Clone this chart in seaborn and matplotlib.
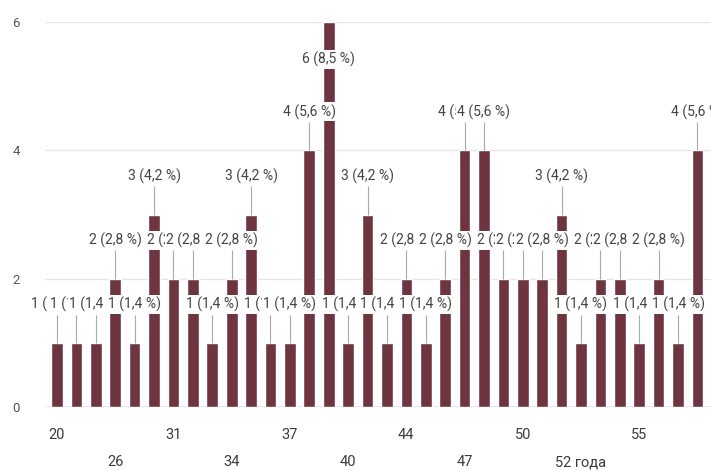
import seaborn as sns
import matplotlib.pyplot as plt
import pandas as pd

# ages as answered in the form (text answers, so "52 года" is its own category)
ages = ['20', '22', '24', '26', '28', '30', '31', '32', '33', '34', '35', '36',
        '37', '38', '39', '40', '41', '43', '44', '45', '46', '47', '48', '49',
        '50', '51', '52', '52 года', '53', '54', '55', '56', '57', '58']
counts = [1, 1, 1, 2, 1, 3, 2, 2, 1, 2, 3, 1,
          1, 4, 6, 1, 3, 1, 2, 1, 2, 4, 4, 2,
          2, 2, 3, 1, 2, 2, 1, 2, 1, 4]
y_ticks = [0, 2, 4, 6]

total = sum(counts)
df = pd.DataFrame({'age': ages, 'count': counts})

sns.set_style('white')
plt.rcParams['font.family'] = ['Roboto', 'DejaVu Sans']

fig = plt.figure(figsize=(7.11, 4.70), dpi=100)
ax = fig.add_axes([45 / 711, 63 / 470, 666 / 711, 385 / 470])

sns.barplot(data=df, x='age', y='count', order=ages, color='#6e3540',
            saturation=1, width=0.6, ax=ax, zorder=2)

ax.set_xlim(-0.62, 33.7)
ax.set_ylim(0, 6)
ax.set_yticks(y_ticks)
ax.yaxis.grid(True, color='#e6e6e6', lw=1)
ax.set_axisbelow(True)
ax.axhline(0, color='#9a9a9a', lw=1, zorder=1)
for s in ax.spines.values():
    s.set_visible(False)
ax.tick_params(axis='y', length=0, pad=18, labelsize=9.5, labelcolor='#555555')
ax.set_xlabel('')
ax.set_ylabel('')

# every third category gets a label, in two staggered rows
ax.set_xticks([])
xt = ax.get_xaxis_transform()
for k, i in enumerate(range(0, 31, 3)):
    yy = -0.073 if k % 2 == 0 else -0.143
    ax.text(i, yy, ages[i], transform=xt, ha='center', va='center',
            fontsize=10.5, color='#3c3c3c')

# value labels with leader lines, drawn in order so later ones cover earlier
for i, v in enumerate(counts):
    pct = f'{100 * v / total:.1f}'.replace('.', ',')
    ly = min(v + 0.6, 5.42)
    if v < 6:
        ax.vlines(i, v, v + 0.44, color='#a8a8a8', lw=0.8, zorder=3)
    ax.text(i, ly, f'{v} ({pct} %)', ha='center', va='center', fontsize=10,
            color='#444444', zorder=4 + i,
            bbox=dict(boxstyle='square,pad=0.12', fc='white', ec='none'))

plt.savefig('out.png', dpi=100)
